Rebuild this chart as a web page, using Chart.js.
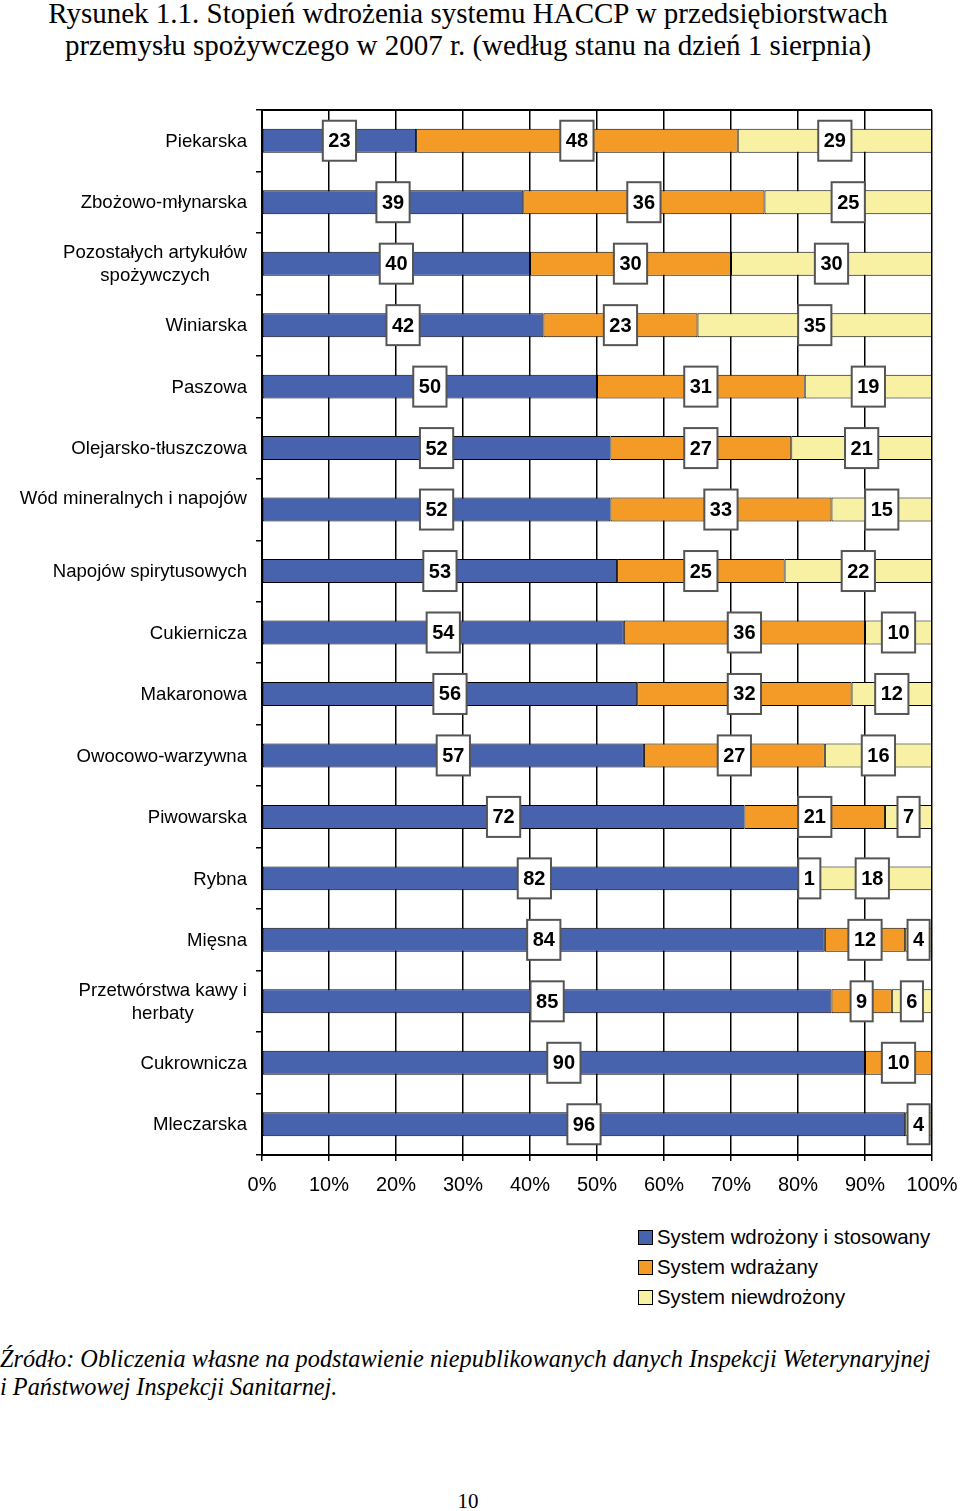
<!DOCTYPE html>
<html><head><meta charset="utf-8">
<script src="https://cdn.jsdelivr.net/npm/chart.js@4.4.0/dist/chart.umd.min.js"></script>
<style>
html,body{margin:0;padding:0;background:#fff;width:960px;height:1511px;overflow:hidden;position:relative}
.t{position:absolute;font-family:"Liberation Serif","Times New Roman",serif;color:#000;white-space:nowrap}
#title{left:0;width:936px;top:-3px;text-align:center;font-size:29px;line-height:32px}
#foot{left:0;top:1345px;font-size:24.3px;line-height:28px;font-style:italic}
#page{left:0;width:936px;top:1489px;text-align:center;font-size:21px}
#legend{position:absolute;left:638px;top:1222px;font-family:"Liberation Sans",Arial,sans-serif;font-size:20.4px;line-height:30px;color:#000}
#legend div{display:flex;align-items:center;height:30px}
#legend span.b{display:inline-block;width:13px;height:13px;border:1.5px solid #000;margin-right:4px}
#wrap{position:absolute;left:0;top:0;width:960px;height:1215px}
</style></head>
<body>
<div class="t" id="title">Rysunek 1.1. Stopień wdrożenia systemu HACCP w przedsiębiorstwach<br>przemysłu spożywczego w 2007 r. (według stanu na dzień 1 sierpnia)</div>
<div id="wrap"><canvas id="c" width="960" height="1215"></canvas></div>
<div id="legend"></div>
<div class="t" id="foot">Źródło: Obliczenia własne na podstawienie niepublikowanych danych Inspekcji Weterynaryjnej<br>i Państwowej Inspekcji Sanitarnej.</div>
<div class="t" id="page">10</div>
<script>
const categories = [
  "Piekarska",
  "Zbożowo-młynarska",
  ["Pozostałych artykułów","spożywczych"],
  "Winiarska",
  "Paszowa",
  "Olejarsko-tłuszczowa",
  ["Wód mineralnych i napojów",""],
  "Napojów spirytusowych",
  "Cukiernicza",
  "Makaronowa",
  "Owocowo-warzywna",
  "Piwowarska",
  "Rybna",
  "Mięsna",
  ["Przetwórstwa kawy i","herbaty"],
  "Cukrownicza",
  "Mleczarska"
];
const wdrozony   = [23,39,40,42,50,52,52,53,54,56,57,72,82,84,85,90,96];
const wdrazany   = [48,36,30,23,31,27,33,25,36,32,27,21, 1,12, 9,10, 0];
const niewdrozony= [29,25,30,35,19,21,15,22,10,12,16, 7,18, 4, 6, 0, 4];
const seriesNames = ["System wdrożony i stosowany","System wdrażany","System niewdrożony"];
const seriesColors = ["#4763AE","#F49A26","#F8F1A4"];
const xTicks = [0,10,20,30,40,50,60,70,80,90,100];

const raw = [wdrozony, wdrazany, niewdrozony];
const totals = categories.map((_, i) => raw.reduce((s, a) => s + a[i], 0));
const pct = raw.map(a => a.map((v, i) => v / totals[i] * 100));

// legend
const lg = document.getElementById('legend');
seriesNames.forEach((n, i) => {
  const d = document.createElement('div');
  d.innerHTML = '<span class="b" style="background:' + seriesColors[i] + '"></span>' + n;
  lg.appendChild(d);
});

const F = '"Liberation Sans", Arial, sans-serif';

const labelPlugin = {
  id: 'boxes',
  afterDatasetsDraw(chart) {
    const ctx = chart.ctx;
    ctx.save();
    const ca = chart.chartArea;
    ctx.strokeStyle = '#000'; ctx.lineWidth = 2;
    ctx.beginPath(); ctx.moveTo(ca.left, ca.top); ctx.lineTo(ca.right, ca.top); ctx.stroke();
    ctx.font = 'bold 20px ' + F;
    ctx.textAlign = 'center'; ctx.textBaseline = 'middle';
    chart.data.datasets.forEach((ds, di) => {
      const meta = chart.getDatasetMeta(di);
      meta.data.forEach((el, i) => {
        const v = raw[di][i];
        if (!v) return;
        const p = el.getCenterPoint();
        const txt = String(v);
        const w = ctx.measureText(txt).width + 11;
        const h = 40;
        ctx.fillStyle = '#fff';
        ctx.fillRect(p.x - w/2, p.y - h/2, w, h);
        ctx.strokeStyle = '#555'; ctx.lineWidth = 2;
        ctx.strokeRect(p.x - w/2, p.y - h/2, w, h);
        ctx.fillStyle = '#000';
        ctx.fillText(txt, p.x, p.y + 1);
      });
    });
    const ys = chart.scales.y;
    ctx.font = '18.6px ' + F;
    ctx.fillStyle = '#000';
    const right = 247, lh = 23;
    categories.forEach((c, i) => {
      const lines = Array.isArray(c) ? c : [c];
      const yc = ys.getPixelForValue(i) + 1;
      const mw = Math.max(...lines.map(l => ctx.measureText(l).width));
      const cx = right - mw / 2;
      const y0 = yc - (lines.length - 1) * lh / 2;
      lines.forEach((l, k) => ctx.fillText(l, cx, y0 + k * lh));
    });
    ctx.restore();
  }
};

new Chart(document.getElementById('c'), {
  type: 'bar',
  data: {
    labels: categories,
    datasets: pct.map((d, i) => ({
      label: seriesNames[i],
      data: d,
      backgroundColor: seriesColors[i],
      borderColor: '#000',
      borderWidth: 1,
      borderSkipped: false,
      barPercentage: 0.39,
      categoryPercentage: 1
    }))
  },
  options: {
    indexAxis: 'y',
    responsive: false,
    animation: false,
    devicePixelRatio: 1,
    layout: { padding: { top: 110, right: 28, left: 0, bottom: 0 } },
    plugins: { legend: { display: false }, tooltip: { enabled: false } },
    scales: {
      x: {
        stacked: true, min: 0, max: 100,
        afterBuildTicks: s => { s.ticks = xTicks.map(v => ({ value: v })); },
        ticks: { callback: v => v + '%', font: { family: F, size: 20 }, color: '#000', padding: 12, maxRotation: 0 },
        grid: { color: '#000', lineWidth: 1.5, tickLength: 6 },
        border: { color: '#000', width: 2 },
        afterFit: s => { s.height = 60; s.paddingLeft = 0; s.paddingRight = 0; }
      },
      y: {
        stacked: true,
        ticks: { display: false },
        grid: { offset: true, drawOnChartArea: false, drawTicks: true, tickLength: 6, color: '#000', lineWidth: 1.5 },
        border: { color: '#000', width: 2 },
        afterFit: s => { s.width = 262; s.paddingTop = 0; s.paddingBottom = 0; }
      }
    }
  },
  plugins: [labelPlugin]
});
</script>
</body></html>
